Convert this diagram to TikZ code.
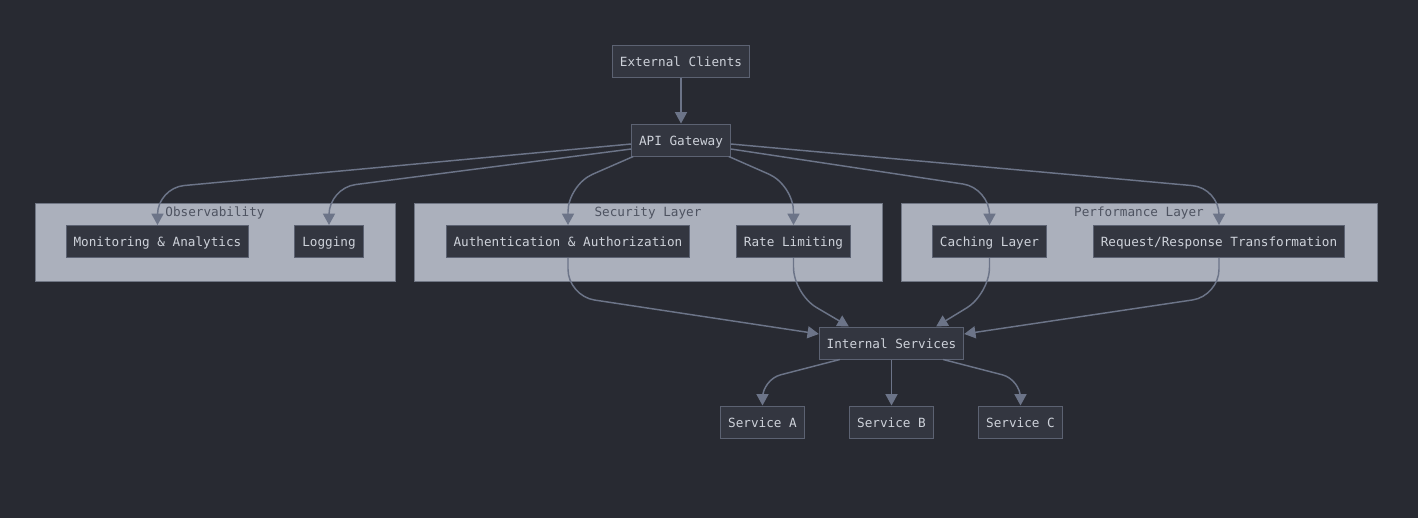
\documentclass[tikz,border=0pt]{standalone}
\usepackage{fontspec}
\setmonofont{DejaVu Sans Mono}
\usepackage{tikz}
\usepackage{xcolor}
\usetikzlibrary{arrows.meta,calc}
\definecolor{bgdark}{RGB}{40,42,50}
\definecolor{nodefill}{RGB}{51,54,64}
\definecolor{nodeline}{RGB}{92,98,114}
\definecolor{nodetext}{RGB}{206,210,218}
\definecolor{layerfill}{RGB}{171,176,188}
\definecolor{layerline}{RGB}{112,118,132}
\definecolor{layertext}{RGB}{78,83,97}
\definecolor{linkline}{RGB}{108,116,136}
\tikzset{
    dark-box/.style = {draw=nodeline, fill=nodefill, text=nodetext, line width=0.75pt, rectangle, inner xsep=5.5pt, minimum height=24pt, text height=9pt, text depth=1pt, font=\ttfamily\fontsize{9.5}{11}\selectfont},
    layer-box/.style = {draw=layerline, fill=layerfill, line width=0.75pt, rectangle, minimum height=58.5pt},
    layer-title/.style = {text=layertext, inner sep=0pt, text height=9pt, text depth=1pt, font=\ttfamily\fontsize{9.5}{11}\selectfont},
    link/.style = {draw=linkline, line width=1.1pt, rounded corners=20pt, -{Triangle[width=9pt,length=8.5pt]}},
}
\begin{document}
\begin{tikzpicture}[x=0.75pt, y=-0.75pt]
\fill[bgdark] (0,0) rectangle (1418,518);

\node[layer-box, minimum width=270pt] (obs) at (215,242) {};
\node[layer-box, minimum width=351pt] (sec) at (648,242) {};
\node[layer-box, minimum width=357pt] (perf) at (1139,242) {};
\node[layer-title] (obs-title) at (215,211.5) {Observability};
\node[layer-title] (sec-title) at (648,211.5) {Security Layer};
\node[layer-title] (perf-title) at (1139,211.5) {Performance Layer};

\node[dark-box] (ext) at (681,61) {External Clients};
\node[dark-box] (gw) at (681,140) {API Gateway};
\node[dark-box] (mon) at (157.5,241.5) {Monitoring \& Analytics};
\node[dark-box] (log) at (329,241.5) {Logging};
\node[dark-box] (auth) at (568,241.5) {Authentication \& Authorization};
\node[dark-box] (rate) at (793.5,241.5) {Rate Limiting};
\node[dark-box] (cache) at (989.5,241.5) {Caching Layer};
\node[dark-box] (rrt) at (1219,241.5) {Request/Response Transformation};
\node[dark-box] (is) at (891.5,343) {Internal Services};
\node[dark-box] (sva) at (762.5,422) {Service A};
\node[dark-box] (svb) at (891.5,422) {Service B};
\node[dark-box] (svc) at (1020.5,422) {Service C};

\draw[link] (ext) -- (gw);
\draw[link] ([yshift=-3pt]gw.west) -- ($(mon.north)+(0,-37)$) -- (mon.north);
\draw[link] ([yshift=-6.75pt]gw.west) -- ($(log.north)+(0,-37)$) -- (log.north);
\draw[link] ([xshift=1.5pt]gw.south west) -- ($(auth.north)+(0,-40)$) -- (auth.north);
\draw[link] ([xshift=-1.5pt]gw.south east) -- ($(rate.north)+(0,-40)$) -- (rate.north);
\draw[link] ([yshift=-6.75pt]gw.east) -- ($(cache.north)+(0,-37)$) -- (cache.north);
\draw[link] ([yshift=-3pt]gw.east) -- ($(rrt.north)+(0,-37)$) -- (rrt.north);

\draw[link] (auth.south) -- ($(auth.south)+(0,38)$) -- ($(is.west)+(0,-9)$);
\draw[link] (rate.south) -- ($(rate.south)+(0,36)$) -- ($(is.north west)+(30,0)$);
\draw[link] (cache.south) -- ($(cache.south)+(0,36)$) -- ($(is.north east)+(-28,0)$);
\draw[link] (rrt.south) -- ($(rrt.south)+(0,38)$) -- ($(is.east)+(0,-9)$);

\draw[link, rounded corners=14pt] ($(is.south west)+(21,0)$) -- ($(sva.north)+(0,-26)$) -- (sva.north);
\draw[link] (is.south) -- (svb.north);
\draw[link, rounded corners=14pt] ($(is.south east)+(-21,0)$) -- ($(svc.north)+(0,-26)$) -- (svc.north);
\end{tikzpicture}
\end{document}
